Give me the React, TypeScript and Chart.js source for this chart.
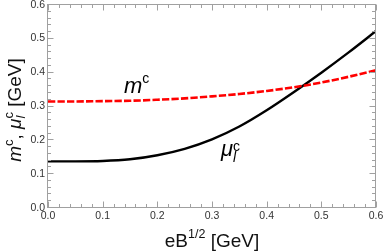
import React, { useEffect, useRef } from "react";
import { Chart, registerables } from "chart.js";
Chart.register(...registerables);

const xValues = [0, 0.05, 0.1, 0.15, 0.2, 0.25, 0.3, 0.35, 0.4, 0.45, 0.5, 0.55, 0.6];
const muValues = [0.135, 0.135, 0.136, 0.141, 0.153, 0.172, 0.2, 0.238, 0.286, 0.34, 0.397, 0.457, 0.52];
const mValues = [0.312, 0.312, 0.313, 0.314, 0.317, 0.321, 0.327, 0.334, 0.343, 0.354, 0.368, 0.385, 0.404];
const xTickValues = [0, 0.1, 0.2, 0.3, 0.4, 0.5, 0.6];
const xTickLabels = ["0.0", "0.1", "0.2", "0.3", "0.4", "0.5", "0.6"];
const yTickValues = [0, 0.1, 0.2, 0.3, 0.4, 0.5, 0.6];
const yTickLabels = ["0.0", "0.1", "0.2", "0.3", "0.4", "0.5", "0.6"];
const minorStep = 0.02;

type Seg = { t: string; font: string; dy: number; stackNext?: boolean };

function segWidth(ctx: CanvasRenderingContext2D, segs: Seg[]) {
  let w = 0;
  let pending = 0;
  segs.forEach((s) => {
    ctx.font = s.font;
    const sw = ctx.measureText(s.t).width;
    if (s.stackNext) {
      pending = sw;
    } else {
      w += Math.max(sw, pending);
      pending = 0;
    }
  });
  return w;
}

function drawSegs(ctx: CanvasRenderingContext2D, segs: Seg[], x0: number, y0: number) {
  let x = x0;
  let pending = 0;
  segs.forEach((s) => {
    ctx.font = s.font;
    const sw = ctx.measureText(s.t).width;
    ctx.fillText(s.t, x, y0 + s.dy);
    if (s.stackNext) {
      pending = sw;
    } else {
      x += Math.max(sw, pending);
      pending = 0;
    }
  });
}

const SANS = "'Liberation Sans', Arial, sans-serif";

export default function App() {
  const ref = useRef<HTMLCanvasElement>(null);
  useEffect(() => {
    document.body.style.margin = "0";
    const canvas = ref.current!;
    const framePlugin = {
      id: "framePlugin",
      afterDraw(chart: any) {
        const ctx: CanvasRenderingContext2D = chart.ctx;
        const xs = chart.scales.x;
        const ys = chart.scales.y;
        const a = chart.chartArea;
        const L = a.left - 0.5, R = a.right - 0.5, T = a.top + 0.5, B = a.bottom + 0.5;
        ctx.save();
        ctx.strokeStyle = "#a0a0a0";
        ctx.lineWidth = 1;
        ctx.strokeRect(L, T, R - L, B - T);
        ctx.beginPath();
        const nMinor = Math.round(0.6 / minorStep);
        for (let i = 0; i <= nMinor; i++) {
          const v = i * minorStep;
          const major = i % 5 === 0;
          const len = major ? 6 : 3.5;
          const px = Math.round(xs.getPixelForValue(v)) + 0.5;
          ctx.moveTo(px, B); ctx.lineTo(px, B - len);
          ctx.moveTo(px, T); ctx.lineTo(px, T + len);
          const py = Math.round(ys.getPixelForValue(v)) + 0.5;
          ctx.moveTo(L, py); ctx.lineTo(L + len, py);
          ctx.moveTo(R, py); ctx.lineTo(R - len, py);
        }
        ctx.stroke();

        ctx.fillStyle = "#333";
        ctx.font = `10.5px ${SANS}`;
        ctx.textAlign = "center";
        ctx.textBaseline = "alphabetic";
        xTickValues.forEach((v, i) => {
          ctx.fillText(xTickLabels[i], xs.getPixelForValue(v), a.bottom + 12);
        });
        ctx.textAlign = "right";
        yTickValues.forEach((v, i) => {
          ctx.fillText(yTickLabels[i], a.left - 3, ys.getPixelForValue(v) + 3.5);
        });

        ctx.fillStyle = "#111";
        ctx.textAlign = "left";
        const xt: Seg[] = [
          { t: "eB", font: `19px ${SANS}`, dy: 0 },
          { t: "1/2", font: `12.5px ${SANS}`, dy: -9 },
          { t: " [GeV]", font: `19px ${SANS}`, dy: 0 },
        ];
        const xw = segWidth(ctx, xt);
        drawSegs(ctx, xt, (a.left + a.right) / 2 - xw / 2, 247);

        const yt: Seg[] = [
          { t: "m", font: `italic 19px ${SANS}`, dy: 0 },
          { t: "c", font: `13px ${SANS}`, dy: -8 },
          { t: ", ", font: `19px ${SANS}`, dy: 0 },
          { t: "\u03bc", font: `italic 19px ${SANS}`, dy: 0 },
          { t: "l", font: `italic 13px ${SANS}`, dy: 4, stackNext: true },
          { t: "c", font: `13px ${SANS}`, dy: -8 },
          { t: " [GeV]", font: `19px ${SANS}`, dy: 0 },
        ];
        const yw = segWidth(ctx, yt);
        ctx.save();
        ctx.translate(21, 110);
        ctx.rotate(-Math.PI / 2);
        drawSegs(ctx, yt, -yw / 2, 0);
        ctx.restore();

        ctx.fillStyle = "#000";
        drawSegs(ctx, [
          { t: "m", font: `italic 22px ${SANS}`, dy: 0 },
          { t: "c", font: `14px ${SANS}`, dy: -10 },
        ], 124, 93);
        drawSegs(ctx, [
          { t: "\u03bc", font: `italic 22px ${SANS}`, dy: 0 },
          { t: "l", font: `italic 14px ${SANS}`, dy: 6, stackNext: true },
          { t: "c", font: `14px ${SANS}`, dy: -5 },
        ], 221, 156);
        ctx.restore();
      },
    };
    const chart = new Chart(canvas, {
      type: "line",
      data: {
        datasets: [
          {
            data: xValues.map((x, i) => ({ x, y: mValues[i] })),
            borderColor: "#ff0000",
            borderWidth: 2.6,
            borderDash: [7.3, 2.2],
            pointRadius: 0,
            cubicInterpolationMode: "monotone",
            fill: false,
          },
          {
            data: xValues.map((x, i) => ({ x, y: muValues[i] })),
            borderColor: "#000000",
            borderWidth: 2.4,
            pointRadius: 0,
            cubicInterpolationMode: "monotone",
            fill: false,
          },
        ],
      },
      options: {
        responsive: false,
        animation: false,
        events: [],
        layout: { padding: { left: 48, right: 8, top: 4, bottom: 44 } },
        scales: {
          x: { type: "linear", min: 0, max: 0.6, display: false },
          y: { type: "linear", min: 0, max: 0.6, display: false },
        },
        plugins: { legend: { display: false }, tooltip: { enabled: false } },
      },
      plugins: [framePlugin],
    } as any);
    return () => chart.destroy();
  }, []);
  return <canvas ref={ref} width={384} height={251} style={{ display: "block" }} />;
}
